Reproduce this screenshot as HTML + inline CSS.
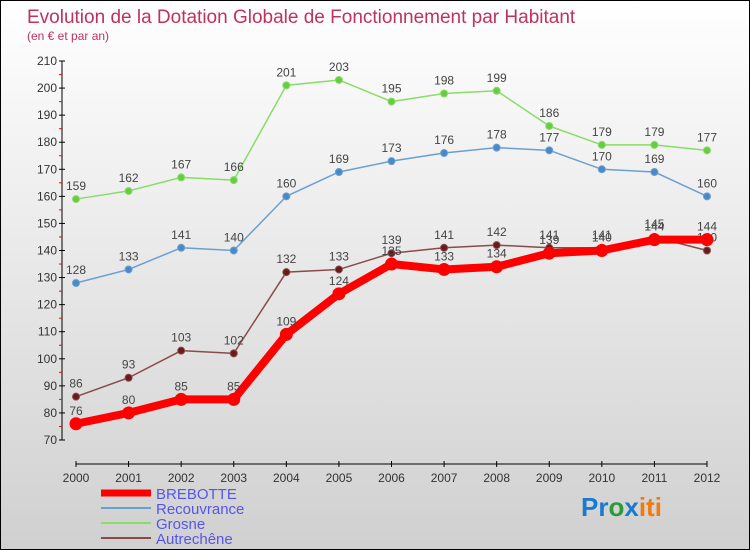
<!DOCTYPE html>
<html><head><meta charset="utf-8"><style>
body{margin:0;}
#c{width:748px;height:548px;border:1px solid #000;background:linear-gradient(#fff,#d0d0d0);position:relative;font-family:"Liberation Sans",sans-serif;overflow:hidden}
svg text{font-family:"Liberation Sans",sans-serif}
</style></head><body>
<div id="c">
<svg id="s" width="748" height="548">
<text x="26" y="22" font-size="19" fill="#c0325e">Evolution de la Dotation Globale de Fonctionnement par Habitant</text>
<text x="26" y="39" font-size="12" fill="#c0325e">(en € et par an)</text>
<g id="ax"></g><g id="ser"></g>
<g>
<line x1="100" y1="492" x2="150" y2="492" stroke="#f00" stroke-width="7"/>
<text x="155" y="498" font-size="15" fill="#5555ee">BREBOTTE</text>
<line x1="100" y1="507" x2="150" y2="507" stroke="#6aa0d0" stroke-width="2"/>
<text x="155" y="513" font-size="15" fill="#5555ee">Recouvrance</text>
<line x1="100" y1="522" x2="150" y2="522" stroke="#88dd66" stroke-width="2"/>
<text x="155" y="528" font-size="15" fill="#5555ee">Grosne</text>
<line x1="100" y1="537" x2="150" y2="537" stroke="#8b4a4a" stroke-width="2"/>
<text x="155" y="543" font-size="15" fill="#5555ee">Autrechêne</text>
</g>
<text x="580" y="515" font-size="26" font-weight="bold"><tspan fill="#1a7ad0">Pr</tspan><tspan fill="#2a9a3a">o</tspan><tspan fill="#1a7ad0">x</tspan><tspan fill="#f07a10">iti</tspan></text>
</svg></div>
<script>
const years=[2000,2001,2002,2003,2004,2005,2006,2007,2008,2009,2010,2011,2012];
const brebotte=[76,80,85,85,109,124,135,133,134,139,140,144,144];
const recouvrance=[128,133,141,140,160,169,173,176,178,177,170,169,160];
const grosne=[159,162,167,166,201,203,195,198,199,186,179,179,177];
const autrechene=[86,93,103,102,132,133,139,141,142,141,141,145,140];
const yTicks=[70,80,90,100,110,120,130,140,150,160,170,180,190,200,210];
const NS='http://www.w3.org/2000/svg';
const X=i=>75+i*(631/12), Y=v=>439-(v-70)*(379/140);
function mk(t,a,p){const e=document.createElementNS(NS,t);for(const k in a)e.setAttribute(k,a[k]);p.appendChild(e);return e;}
const ax=document.getElementById('ax');
let l=mk('line',{x1:61,y1:60,x2:61,y2:439,stroke:'#000'},ax);


yTicks.forEach(v=>{mk('line',{x1:58,x2:64,y1:Y(v),y2:Y(v),stroke:'#000'},ax);
 if(v<210)mk('line',{x1:58,x2:61,y1:Y(v+5),y2:Y(v+5),stroke:'#f00'},ax);
 const t=mk('text',{x:56,y:Y(v)+4,'font-size':12,'text-anchor':'end',fill:'#333'},ax);t.textContent=v;
 
 });
l=mk('line',{x1:75,y1:463,x2:706,y2:463,stroke:'#000'},ax);


years.forEach((y,i)=>{mk('line',{x1:X(i),x2:X(i),y1:460,y2:466,stroke:'#000'},ax);
 const t=mk('text',{x:X(i),y:481,'font-size':12,'text-anchor':'middle',fill:'#333'},ax);t.textContent=y;
 
 });
const ser=document.getElementById('ser');
function draw(d,col,w,r,dot,name){
 const g=mk('g',{},ser);
 
 
 mk('polyline',{points:d.map((v,i)=>X(i)+','+Y(v)).join(' '),fill:'none',stroke:col,'stroke-width':w,'stroke-linejoin':'round'},g);
 d.forEach((v,i)=>{const c=mk('circle',{cx:X(i),cy:Y(v),r:r,fill:dot,stroke:col,'stroke-width':1},g);
  
  
  const t=mk('text',{x:X(i),y:Y(v)-9,'font-size':12,'text-anchor':'middle',fill:'#444'},g);t.textContent=v;});
}
draw(grosne,'#88dd66',1.5,3.5,'#66cc44','grosne-series');
draw(recouvrance,'#6aa0d0',1.5,3.5,'#4a88c8','recouvrance-series');
draw(autrechene,'#8b4a4a',1.5,3.5,'#6a1a1a','autrechene-series');
draw(brebotte,'#f00',8,6,'#f00','brebotte-series');
</script>
</body></html>
